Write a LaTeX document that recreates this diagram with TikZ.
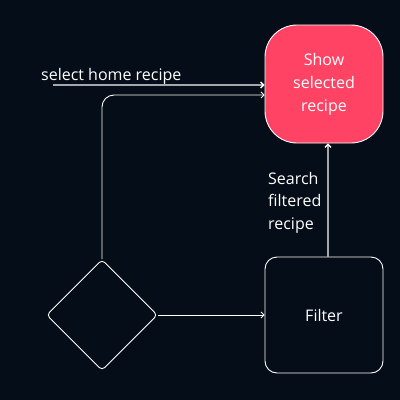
\documentclass[tikz,border=0pt]{standalone}
\usepackage{fontspec}
\setmainfont{Open Sans}
\usetikzlibrary{arrows.meta,shapes.geometric}
\definecolor{bg}{HTML}{050D18}
\definecolor{pinkfill}{HTML}{FF4365}
\definecolor{linegray}{HTML}{A4A8AE}
\tikzset{
  conn/.style={draw=white, line width=0.9pt, -{Straight Barb[length=3pt,width=6pt]}},
  grayconn/.style={draw=linegray, line width=1.3pt, -{Straight Barb[length=3pt,width=6pt,color=white]}},
  lbl/.style={text=white, font=\fontsize{16}{22.5}\selectfont, inner sep=0pt},
}
\begin{document}
\begin{tikzpicture}[x=1pt,y=-1pt]
\fill[bg] (0,0) rectangle (400,400);
\useasboundingbox (0,0) rectangle (400,400);
% nodes
\node[draw=white, fill=pinkfill, line width=0.9pt, rounded corners=32pt, minimum width=118pt, minimum height=118pt, text width=100pt, align=center, text=white, font=\fontsize{16}{23}\selectfont] (show) at (324,84) {Show\\selected\\recipe};
\node[draw=white, line width=0.9pt, rounded corners=12pt, minimum width=118pt, minimum height=116pt, text=white, font=\fontsize{16}{23}\selectfont] (filter) at (324,315) {Filter};
\node[draw=white, line width=0.9pt, diamond, rounded corners=4pt, minimum width=111pt, minimum height=111pt, inner sep=0pt] (dec) at (102,315) {};
% label and free end
\node[lbl, anchor=base west] (sel) at (41,80) {select home recipe};
\coordinate (selstart) at (53,85);
\draw[grayconn] (selstart) -- (selstart -| show.west);
% diamond to show
\draw[conn, rounded corners=12pt] (dec.north) |- ([yshift=-10pt]selstart -| show.west);
% diamond to filter
\draw[conn] (dec.east) -- (filter.west);
% filter to show
\draw[grayconn] (filter.north -| 328,0) -- (show.south -| 328,0);
\node[lbl, anchor=north west, align=left] (slbl) at (268,172) {Search\\filtered\\recipe};
\end{tikzpicture}
\end{document}
